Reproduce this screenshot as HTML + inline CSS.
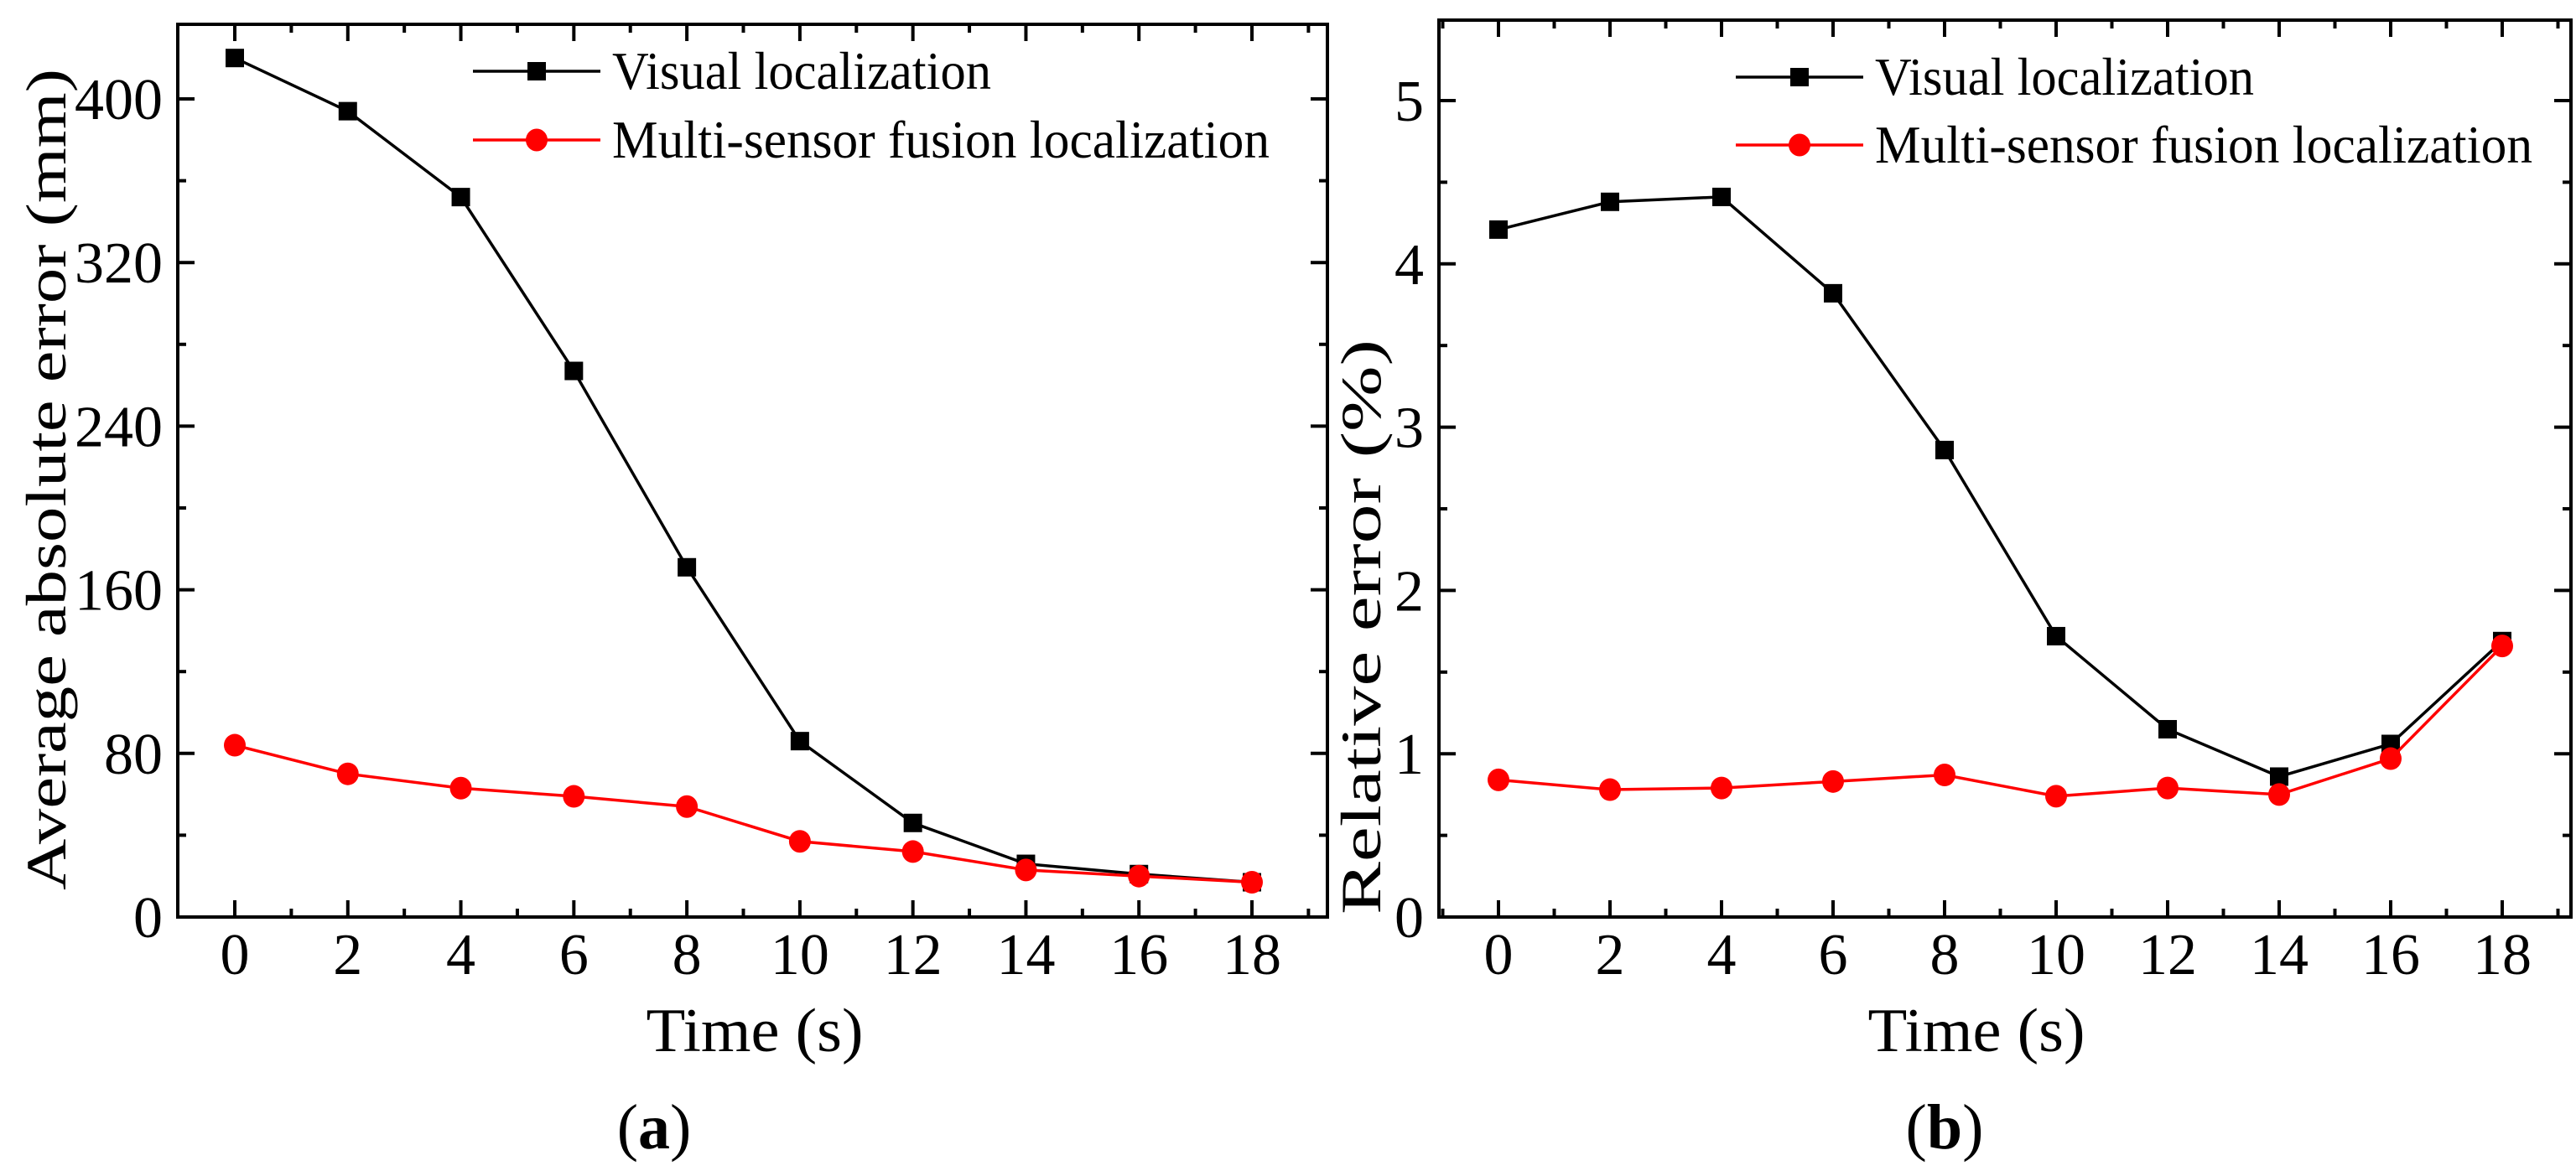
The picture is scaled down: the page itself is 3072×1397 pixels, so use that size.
<!DOCTYPE html>
<html><head><meta charset="utf-8"><style>
html,body{margin:0;padding:0;background:#fff;}
svg{display:block;font-family:"Liberation Serif",serif;}
</style></head><body>
<svg id="chart" width="3072" height="1397" viewBox="0 0 3072 1397" xmlns="http://www.w3.org/2000/svg"></svg>
<script>
const times = [0,2,4,6,8,10,12,14,16,18];
const visualAbs = [420,394,352,267,171,86,46,26,21,17];
const fusionAbs = [84,70,63,59,54,37,32,23,20,17];
const visualRel = [4.21,4.38,4.41,3.82,2.86,1.72,1.15,0.86,1.06,1.69];
const fusionRel = [0.84,0.78,0.79,0.83,0.87,0.74,0.79,0.75,0.97,1.66];
const xTicks = [0,2,4,6,8,10,12,14,16,18];
const yTicksA = [0,80,160,240,320,400];
const yTicksB = [0,1,2,3,4,5];
const legendLabels = ["Visual localization","Multi-sensor fusion localization"];

const NS="http://www.w3.org/2000/svg";
const svg=document.getElementById('chart');
function mk(tag,attrs,parent){const e=document.createElementNS(NS,tag);for(const k in attrs)e.setAttribute(k,attrs[k]);(parent||svg).appendChild(e);return e;}

function panel(cfg){
  const g=mk('g',{});
  
  
  const {L,R,T,B,x0px,x18px,ymaxVal,ymaxPx}=cfg;
  const sx=v=>x0px+(v-0)*(x18px-x0px)/18;
  const sy=v=>B-(v/ymaxVal)*(B-ymaxPx);
  const frame=mk('rect',{x:L,y:T,width:R-L,height:B-T,fill:'none',stroke:'#000','stroke-width':4},g);
  
  
  for(let v=-1;v<=19;v++){
    const x=sx(v); if(x<L+2||x>R-2)continue;
    const major=v%2===0;const len=major?20:10;
    mk('line',{x1:x,y1:B,x2:x,y2:B-len,stroke:'#000','stroke-width':4},g);
    mk('line',{x1:x,y1:T,x2:x,y2:T+len,stroke:'#000','stroke-width':4},g);
  }
  xTicks.forEach(v=>{
    const t=mk('text',{x:sx(v),y:1162,'font-size':70,'text-anchor':'middle'},g);
    t.textContent=v;
    
    
  });
  const step=cfg.yTicks[1]-cfg.yTicks[0];
  for(let v=0;sy(v)>T+2;v+=step/2){
    const y=sy(v);const major=Math.abs((v/step)-Math.round(v/step))<1e-6;const len=major?20:10;
    mk('line',{x1:L,y1:y,x2:L+len,y2:y,stroke:'#000','stroke-width':4},g);
    mk('line',{x1:R,y1:y,x2:R-len,y2:y,stroke:'#000','stroke-width':4},g);
  }
  cfg.yTicks.forEach(v=>{
    const t=mk('text',{x:L-18,y:sy(v)+24,'font-size':70,'text-anchor':'end'},g);
    t.textContent=v;
    
    
  });
  function series(vals,color,shape,nm){
    const pts=vals.map((v,i)=>sx(times[i])+','+sy(v)).join(' ');
    const pl=mk('polyline',{points:pts,fill:'none',stroke:color,'stroke-width':3.5},g);
    
    
    vals.forEach((v,i)=>{
      let m;
      if(shape==='sq') m=mk('rect',{x:sx(times[i])-11,y:sy(v)-11,width:22,height:22,fill:color},g);
      else m=mk('ellipse',{cx:sx(times[i]),cy:sy(v),rx:13,ry:13.5,fill:color},g);
      
      
    });
  }
  series(cfg.v1,'#000','sq','visual');
  series(cfg.v2,'#f00','ci','fusion');
  const lg=mk('g',{},g);
  
  
  [[cfg.leg[0],cfg.leg[1],'#000','sq',452],[cfg.leg[0],cfg.leg[2],'#f00','ci',784]].forEach((r,i)=>{
    const [lx,ly,c,s,tl]=r;
    const e=mk('g',{},lg);
    
    
    mk('line',{x1:lx,y1:ly,x2:lx+152,y2:ly,stroke:c,'stroke-width':3.5},e);
    if(s==='sq')mk('rect',{x:lx+65,y:ly-11,width:22,height:22,fill:c},e);
    else mk('ellipse',{cx:lx+76,cy:ly,rx:13,ry:13.5,fill:c},e);
    const t=mk('text',{x:lx+166,y:ly+21,'font-size':64,textLength:tl,lengthAdjust:'spacingAndGlyphs'},e);
    t.textContent=legendLabels[i];
  });
  const xt=mk('text',{x:cfg.xtX,y:1254,'font-size':74,'text-anchor':'middle',textLength:259,lengthAdjust:'spacingAndGlyphs'},g);
  xt.textContent='Time (s)';
  
  
  const yt=mk('text',{x:0,y:0,'font-size':68,'text-anchor':'middle',textLength:cfg.ytLen,lengthAdjust:'spacingAndGlyphs',transform:`translate(${cfg.ytX},${cfg.ytY}) rotate(-90)`},g);
  yt.textContent=cfg.ytitle;
  
  
  const cap=mk('text',{x:cfg.capX,y:1370,'font-size':76,'text-anchor':'middle'},g);
  cap.innerHTML='(<tspan font-weight="bold">'+cfg.cap+'</tspan>)';
  
  
}
panel({name:'panel-a',L:212,R:1583,T:29,B:1094,x0px:280,x18px:1493,ymaxVal:400,ymaxPx:118,
  yTicks:yTicksA,v1:visualAbs,v2:fusionAbs,leg:[564,85,167],xtX:900,ytX:78,ytY:572,ytLen:980,
  ytitle:'Average absolute error (mm)',capX:780,cap:'a'});
panel({name:'panel-b',L:1716,R:3066,T:24,B:1094,x0px:1787,x18px:2984,ymaxVal:5,ymaxPx:120,
  yTicks:yTicksB,v1:visualRel,v2:fusionRel,leg:[2070,92,173],xtX:2357,ytX:1646,ytY:748,ytLen:686,
  ytitle:'Relative error (%)',capX:2319,cap:'b'});
</script>
</body></html>
